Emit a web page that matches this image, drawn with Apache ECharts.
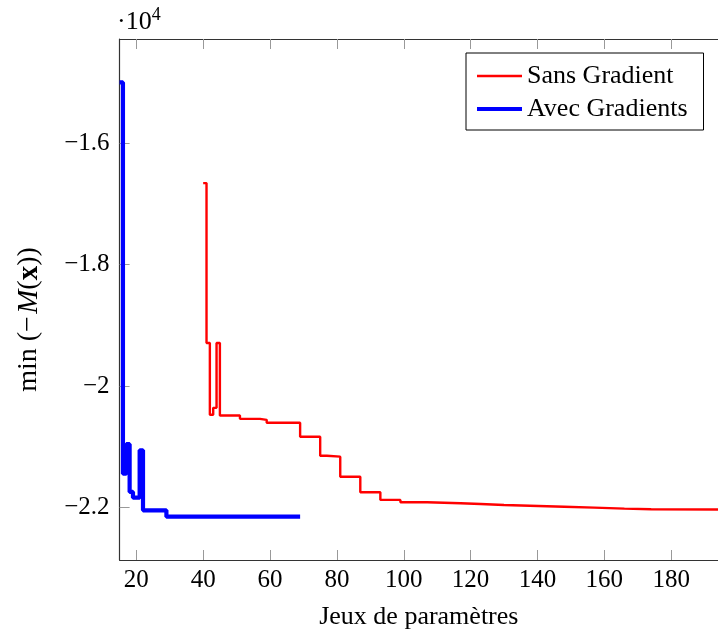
<!DOCTYPE html>
<html><head><meta charset="utf-8">
<script src="https://cdn.jsdelivr.net/npm/echarts@6/dist/echarts.min.js"></script>
<style>html,body{margin:0;padding:0;background:#fff}#c{width:718px;height:635px}</style>
</head><body><div id="c"></div>
<script>
const seriesNames = ['Sans Gradient', 'Avec Gradients'];
const sansX = [40, 41, 42, 43, 44, 45, 51, 57, 59, 69, 75, 77, 81, 87, 93, 99, 107, 117, 123, 130, 148, 157, 166, 174, 194];
const sansY = [-16660, -19290, -20470, -20357, -19290, -20483, -20538, -20555, -20603, -20833, -21144, -21160, -21490, -21746, -21871, -21911, -21927, -21939, -21955, -21983, -21998, -22015, -22025, -22030, -22030];
const avecX = [15, 16, 17, 18, 19, 21, 22, 29, 69];
const avecY = [-15005, -21440, -20955, -21740, -21835, -21055, -22043, -22148, -22148];
const xTicks = [20, 40, 60, 80, 100, 120, 140, 160, 180];
const yTicks = [-22000, -20000, -18000, -16000];
const yTickLabels = ['\u22122.2', '\u22122', '\u22121.8', '\u22121.6'];
const xTitle = 'Jeux de param\u00e8tres';
const yTitle = '{r|min (\u2212\u200a}{i|M}{r|(}{b|x}{r|))}';
const scaleText = '\u00b710{s|4}';

const FF = 'Liberation Serif';
const zip = (xs, ys) => xs.map((x, i) => [x, ys[i]]);
const chart = echarts.init(document.getElementById('c'), null, {renderer: 'canvas'});
const axisLineStyle = {color: '#333', width: 1.2};
const tickStyle = {color: '#999', width: 1};
chart.setOption({
  animation: false,
  backgroundColor: '#fff',
  title: {
    text: scaleText, left: 117, top: 6, padding: 0,
    textStyle: {fontFamily: FF, fontSize: 26, fontWeight: 'normal', color: '#000',
      rich: {s: {fontFamily: FF, fontSize: 18, color: '#000', padding: [0, 0, 14, 0]}}}
  },
  grid: {left: 119.6, top: 39, right: 0, bottom: 75, containLabel: false, outerBoundsMode: 'none'},
  legend: {
    orient: 'vertical', left: 466, top: 53,
    itemWidth: 45, itemHeight: 14, itemGap: 7,
    padding: [10, 16, 8, 11],
    borderColor: '#000', borderWidth: 1, borderRadius: 0, backgroundColor: '#fff',
    textStyle: {fontFamily: FF, fontSize: 26, color: '#000', lineHeight: 26},
    data: [
      {name: seriesNames[0], icon: 'path://M0,0h45v2.4h-45z'},
      {name: seriesNames[1], icon: 'path://M0,0h45v4.2h-45z'}
    ]
  },
  xAxis: [{
    type: 'value', min: 15, max: 194, position: 'bottom',
    splitLine: {show: false},
    axisLine: {show: true, onZero: false, lineStyle: axisLineStyle},
    axisTick: {show: true, inside: true, length: 10, lineStyle: tickStyle, customValues: xTicks},
    axisLabel: {show: true, margin: 8, fontFamily: FF, fontSize: 25, color: '#000', customValues: xTicks},
    name: xTitle, nameLocation: 'middle', nameGap: 44,
    nameTextStyle: {fontFamily: FF, fontSize: 26, color: '#000'}
  }, {
    type: 'value', min: 15, max: 194, position: 'top',
    splitLine: {show: false},
    axisLine: {show: true, onZero: false, lineStyle: axisLineStyle},
    axisTick: {show: true, inside: true, length: 10, lineStyle: tickStyle, customValues: xTicks},
    axisLabel: {show: false}
  }],
  yAxis: [{
    type: 'value', min: -22860, max: -14290, position: 'left',
    splitLine: {show: false},
    axisLine: {show: true, onZero: false, lineStyle: axisLineStyle},
    axisTick: {show: true, inside: true, length: 10, lineStyle: tickStyle, customValues: yTicks},
    axisLabel: {show: true, margin: 10, fontFamily: FF, fontSize: 25, color: '#000', customValues: yTicks,
      formatter: v => { const i = yTicks.indexOf(v); return i >= 0 ? yTickLabels[i] : ''; }},
    name: yTitle, nameLocation: 'middle', nameGap: 76, nameRotate: 90,
    nameTextStyle: {fontFamily: FF, fontSize: 28, color: '#000', padding: [0, 40, 0, 0],
      rich: {
        r: {fontFamily: FF, fontSize: 28, color: '#000'},
        i: {fontFamily: FF, fontSize: 29, fontStyle: 'italic', color: '#000'},
        b: {fontFamily: FF, fontSize: 29, fontWeight: 'bold', color: '#000'}
      }}
  }],
  series: [{
    name: seriesNames[0], type: 'line', step: 'end', data: zip(sansX, sansY),
    showSymbol: false, symbol: 'none', color: '#ff0000',
    lineStyle: {color: '#ff0000', width: 2.4}, z: 3
  }, {
    name: seriesNames[1], type: 'line', step: 'end', data: zip(avecX, avecY),
    showSymbol: false, symbol: 'none', color: '#0000ff',
    lineStyle: {color: '#0000ff', width: 4.2}, z: 4
  }]
});
</script></body></html>
